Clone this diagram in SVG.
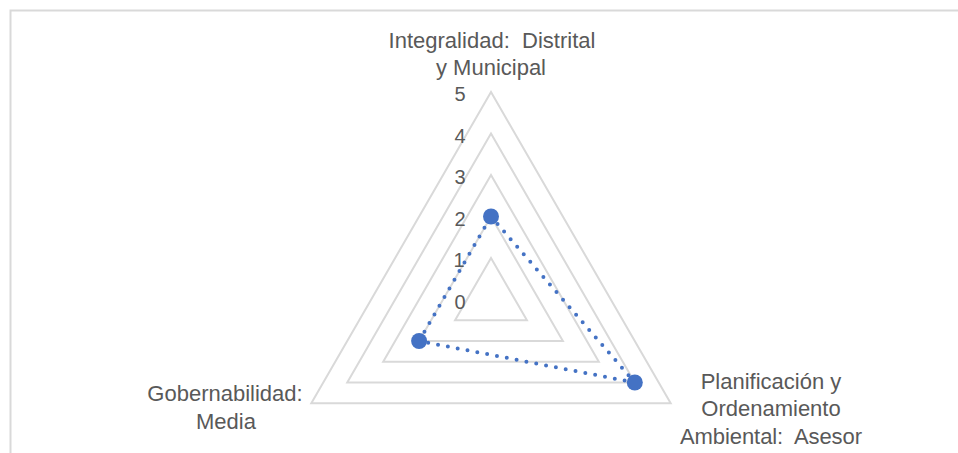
<svg xmlns="http://www.w3.org/2000/svg" width="958" height="453" viewBox="0 0 958 453">
  <style>
    .frame { fill: none; stroke: #D9D9D9; stroke-width: 2; }
    .ring { fill: none; stroke: #D9D9D9; stroke-width: 2; stroke-linejoin: miter; }
    .lbl { font-family: "Liberation Sans", Arial, sans-serif; font-size: 22px; fill: #595959; text-anchor: middle; }
    .tick { font-family: "Liberation Sans", Arial, sans-serif; font-size: 20px; fill: #595959; text-anchor: middle; }
    .series { fill: none; stroke: #4472C4; stroke-width: 4; stroke-linecap: round; stroke-dasharray: 0 10; }
    .mk { fill: #4472C4; }
  </style>
  <rect width="958" height="453" fill="#FFFFFF"/>
  <path class="frame" d="M10.5,453 V10.5 H958"/>

  <g id="grid">
    <polygon class="ring" points="491,258 526.94,320.25 455.06,320.25"/>
    <polygon class="ring" points="491,216.5 562.88,341 419.12,341"/>
    <polygon class="ring" points="491,175 598.82,361.75 383.18,361.75"/>
    <polygon class="ring" points="491,133.5 634.76,382.5 347.24,382.5"/>
    <polygon class="ring" points="491,92 670.7,403.25 311.3,403.25"/>
  </g>

  <g id="axis-ticks">
    <text class="tick" x="460" y="308.5">0</text>
    <text class="tick" x="459" y="267">1</text>
    <text class="tick" x="460" y="225.5">2</text>
    <text class="tick" x="460" y="184">3</text>
    <text class="tick" x="460" y="142.5">4</text>
    <text class="tick" x="460" y="101">5</text>
  </g>

  <g id="label-integralidad">
    <text class="lbl" x="492" y="48" xml:space="preserve" textLength="207" lengthAdjust="spacing">Integralidad:  Distrital</text>
    <text class="lbl" x="491" y="75">y Municipal</text>
  </g>
  <g id="label-gobernabilidad">
    <text class="lbl" x="225" y="401">Gobernabilidad:</text>
    <text class="lbl" x="226" y="429">Media</text>
  </g>
  <g id="label-planificacion">
    <text class="lbl" x="771" y="389">Planificación y</text>
    <text class="lbl" x="771" y="416">Ordenamiento</text>
    <text class="lbl" x="771" y="444" xml:space="preserve" textLength="182" lengthAdjust="spacing">Ambiental:  Asesor</text>
  </g>

  <g id="connectors">
    <polygon class="series" points="491,216.5 634.8,382.5 419.1,341"/>
  </g>

  <g id="point-integralidad"><circle class="mk" cx="491" cy="216.5" r="8"/></g>
  <g id="point-planificacion"><circle class="mk" cx="634.8" cy="382.5" r="8"/></g>
  <g id="point-gobernabilidad"><circle class="mk" cx="419.1" cy="341" r="8"/></g>
</svg>
